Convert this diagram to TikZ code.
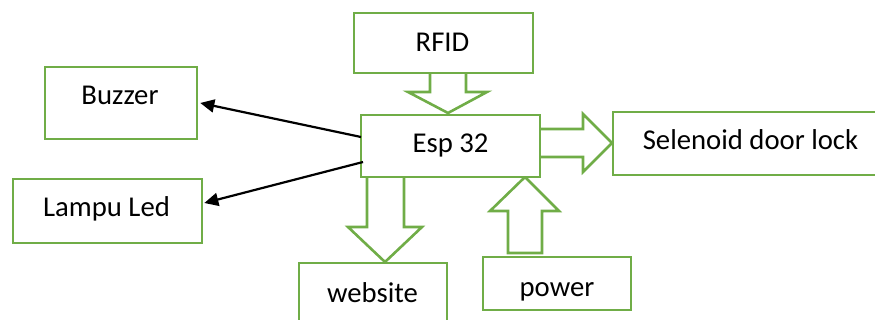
\documentclass[tikz,border=0pt]{standalone}
\usepackage{fontspec}
\setmainfont{Carlito}
\usetikzlibrary{arrows.meta}
\definecolor{boxgreen}{HTML}{70AD47}
\tikzset{
  block/.style={draw=boxgreen, line width=2.6pt, fill=white, inner sep=0pt},
  caption/.style={anchor=base, inner sep=0pt, font=\fontsize{28.7}{34}\selectfont},
  fatarrow/.style={draw=boxgreen, line width=2.6pt, fill=white, line join=miter},
  signal/.style={draw=black, line width=2.2pt, -{Triangle[length=14pt,width=13pt]}}
}
\begin{document}
\begin{tikzpicture}[x=1pt,y=-1pt]
\useasboundingbox (0,0) rectangle (875,320);

% block arrows (drawn first so the box borders close their open ends)
\draw[fatarrow] (430,73) -- (430,92) -- (408,92) -- (448,113) -- (487,92) -- (466,92) -- (466,73);
\draw[fatarrow] (540,129) -- (583,129) -- (583,114) -- (612,143) -- (583,172) -- (583,157) -- (540,157);
\draw[fatarrow] (367,177) -- (367,227) -- (348,227) -- (385,262) -- (422,227) -- (404,227) -- (404,177);
\draw[fatarrow] (508,253) -- (508,211) -- (490,211) -- (525,177) -- (559,211) -- (542,211) -- (542,253) -- cycle;

% blocks
\node[block, minimum width=179pt, minimum height=60pt] (rfid) at (443.5,43) {};
\node[block, minimum width=179pt, minimum height=62pt] (esp) at (450.5,146) {};
\node[block, minimum width=152pt, minimum height=72pt] (buzzer) at (121,103) {};
\node[block, minimum width=189pt, minimum height=64pt] (lampu) at (107.5,211) {};
\node[block, minimum width=272pt, minimum height=63pt] (door) at (749,143.5) {};
\node[block, minimum width=148pt, minimum height=58pt] (web) at (373,292) {};
\node[block, minimum width=148pt, minimum height=53pt] (power) at (557,283.5) {};

% block captions, set on their baselines
\node[caption] (rfid-t) at (442.5,52) {RFID};
\node[caption] (esp-t) at (450.5,153) {Esp 32};
\node[caption] (buzzer-t) at (120,105) {Buzzer};
\node[caption] (lampu-t) at (106.5,217) {Lampu Led};
\node[caption] (door-t) at (750.5,150) {Selenoid door lock};
\node[caption] (web-t) at (372.5,302) {website};
\node[caption] (power-t) at (557,297) {power};

% signal lines from the controller
\coordinate (outA) at (361,137);
\coordinate (outB) at (363,162);
\draw[signal] (outA) -- ([xshift=2pt]buzzer.east);
\draw[signal] (outB) -- ([xshift=1pt,yshift=8pt]lampu.east);
\end{tikzpicture}
\end{document}
